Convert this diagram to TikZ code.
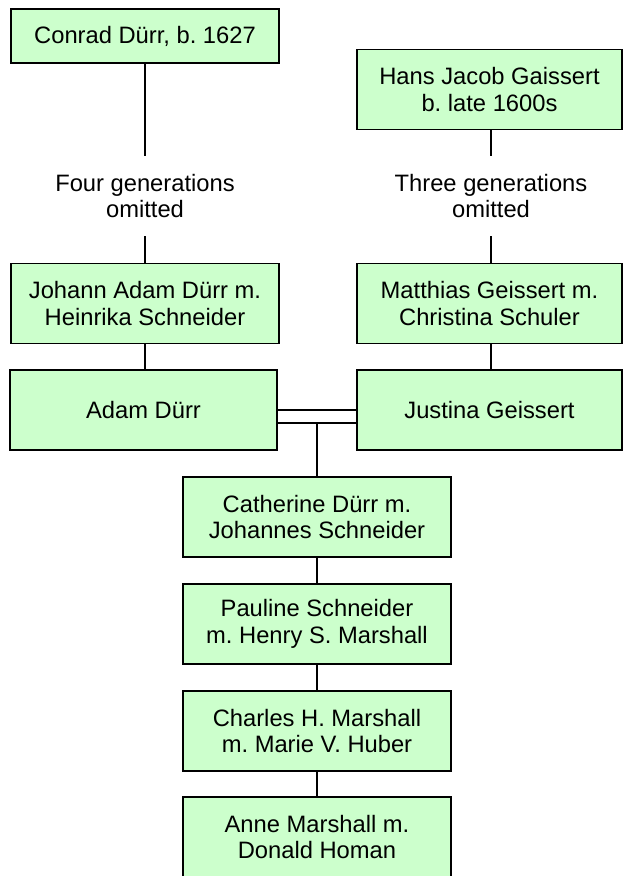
\documentclass[tikz,border=0pt]{standalone}
\usepackage{fontspec}
\setmainfont{Liberation Sans}
\frenchspacing
\definecolor{boxgreen}{HTML}{CCFFCC}
\begin{document}
\begin{tikzpicture}[x=0.75pt,y=-0.75pt,
  person/.style={draw=black,line width=1.2pt,fill=boxgreen,inner sep=0pt,
    minimum width=201pt,minimum height=60pt,align=center,
    font=\fontsize{17.8}{20.2}\selectfont},
  gap/.style={inner sep=0pt,minimum height=60pt,align=center,
    font=\fontsize{17.8}{20.2}\selectfont},
  link/.style={draw=black,line width=1pt}]
\useasboundingbox (0,0) rectangle (623,876);
\clip (0,0) rectangle (623,876);
\node[person,minimum height=40.5pt] (conrad) at (145,36) {Conrad Dürr, b. 1627};
\node[person,minimum width=198.75pt] (hans) at (489.5,89.5) {Hans Jacob Gaissert\\b. late 1600s};
\node[gap] (four) at (145,196) {Four generations\\omitted};
\node[gap] (three) at (491,196) {Three generations\\omitted};
\node[person] (johann) at (145,303.5) {Johann Adam Dürr m.\\Heinrika Schneider};
\node[person,minimum width=198.75pt] (matthias) at (489.5,303.5) {Matthias Geissert m.\\Christina Schuler};
\node[person,minimum width=200.25pt] (adam) at (143.5,410) {Adam Dürr};
\node[person,minimum width=198.75pt] (justina) at (489.5,410) {Justina Geissert};
\node[person] (catherine) at (317,517) {Catherine Dürr m.\\Johannes Schneider};
\node[person] (pauline) at (317,624) {Pauline Schneider\\m. Henry S. Marshall};
\node[person] (charles) at (317,731) {Charles H. Marshall\\m. Marie V. Huber};
\node[person] (anne) at (317,837) {Anne Marshall m.\\Donald Homan};
\draw[link] (conrad.south) -- (conrad.south |- four.north);
\draw[link] (four.south -| johann.north) -- (johann.north);
\draw[link] (hans.south -| three.north) -- (three.north);
\draw[link] (three.south) -- (matthias.north -| three.south);
\draw[link] (johann.south) -- (adam.north -| johann.south);
\draw[link] (matthias.south -| three.south) -- (justina.north -| three.south);
\coordinate (m1) at (0,410);
\coordinate (m2) at (0,423);
\draw[link] (adam.east |- m1) -- (justina.west |- m1);
\draw[link] (adam.east |- m2) -- (justina.west |- m2);
\coordinate (drop) at (317,423);
\draw[link] (drop) -- (catherine.north);
\draw[link] (catherine.south) -- (pauline.north);
\draw[link] (pauline.south) -- (charles.north);
\draw[link] (charles.south) -- (anne.north);
\end{tikzpicture}
\end{document}
